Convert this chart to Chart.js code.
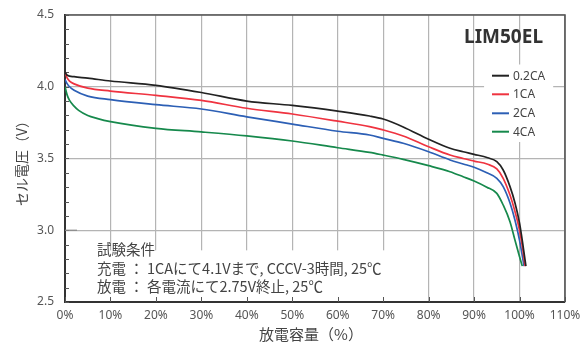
<!DOCTYPE html>
<html>
<head>
<meta charset="utf-8">
<script src="https://cdn.jsdelivr.net/npm/chart.js@4"></script>
<style>
  html, body { margin: 0; padding: 0; background: #fff; }
  #wrap { width: 582px; height: 343px; position: relative; }
</style>
</head>
<body>
<div id="wrap"><canvas id="chart"></canvas></div>
<script>
// discharge curves (capacity % -> cell voltage V)
const seriesLabels = ['0.2CA', '1CA', '2CA', '4CA'];
const seriesColors = ['#222222', '#ef3340', '#2c5fb5', '#16894c'];

const cap02 = [0, 0.5, 2, 5, 10, 20, 30, 40, 50, 60, 67, 70, 74.4, 80, 84.7, 87.6, 90, 93, 95, 96.4, 97.9, 99, 100, 100.8, 101.4];
const volt02 = [4.10, 4.08, 4.07, 4.06, 4.04, 4.01, 3.96, 3.90, 3.87, 3.83, 3.796, 3.775, 3.72, 3.634, 3.571, 3.547, 3.529, 3.505, 3.478, 3.42, 3.304, 3.19, 3.049, 2.885, 2.75];

const cap1 = [0, 0.5, 1, 2, 5, 10, 20, 30, 40, 50, 60, 67, 70, 74.4, 80, 84.7, 87.6, 90, 93, 95, 96.4, 97.9, 99, 100, 100.7, 101.2];
const volt1 = [4.10, 4.06, 4.04, 4.02, 3.99, 3.97, 3.94, 3.905, 3.85, 3.81, 3.76, 3.722, 3.699, 3.657, 3.582, 3.524, 3.50, 3.482, 3.46, 3.427, 3.362, 3.245, 3.13, 3.0, 2.87, 2.75];

const cap2 = [0, 0.5, 1, 2, 5, 10, 20, 30, 40, 50, 60, 67, 70, 74.4, 80, 84.7, 87.6, 90, 92.8, 95, 96.4, 97.9, 99, 100, 101];
const volt2 = [4.05, 4.02, 4.00, 3.975, 3.935, 3.91, 3.875, 3.845, 3.79, 3.74, 3.69, 3.664, 3.64, 3.606, 3.547, 3.49, 3.462, 3.439, 3.40, 3.362, 3.304, 3.19, 3.07, 2.93, 2.75];

const cap4 = [0, 0.5, 1, 2, 3, 5, 7, 10, 20, 30, 40, 50, 60, 67, 70, 74.4, 80, 84.7, 87.6, 90, 92.8, 95, 96.4, 97.9, 99, 100, 100.6];
const volt4 = [4.00, 3.94, 3.905, 3.865, 3.835, 3.80, 3.78, 3.757, 3.71, 3.685, 3.657, 3.622, 3.575, 3.543, 3.524, 3.494, 3.45, 3.408, 3.373, 3.343, 3.30, 3.257, 3.176, 3.06, 2.93, 2.816, 2.75];

const xTicks = [0, 10, 20, 30, 40, 50, 60, 70, 80, 90, 100, 110];
const yTicks = [2.5, 3.0, 3.5, 4.0, 4.5];

const modelName = 'LIM50EL';
const xTitle = '放電容量（%）';
const yTitle = 'セル電圧（V）';
const noteLines = [
  '試験条件',
  '充電 ： 1CAにて4.1Vまで, CCCV-3時間, 25℃',
  '放電 ： 各電流にて2.75V終止, 25℃'
];

const caps = [cap02, cap1, cap2, cap4];
const volts = [volt02, volt1, volt2, volt4];

const datasets = seriesLabels.map((label, i) => ({
  label: label,
  data: caps[i].map((c, j) => ({ x: c, y: volts[i][j] })),
  borderColor: seriesColors[i],
  backgroundColor: seriesColors[i],
  borderWidth: 1.7,
  pointRadius: 0,
  cubicInterpolationMode: 'monotone',
  fill: false
}));

const LATIN = '"Noto Sans", "Open Sans", sans-serif';
const CJK = '"Noto Sans CJK JP", "Noto Sans", sans-serif';

// extra drawing: frame, inward ticks, note box, legend, titles
const decorations = {
  id: 'decorations',
  beforeDatasetsDraw(chart) {
    const ctx = chart.ctx;
    const xs = chart.scales.x, ys = chart.scales.y;
    const a = chart.chartArea;
    ctx.save();
    // white box for the test conditions
    ctx.fillStyle = '#fff';
    const boxTop = ys.getPixelForValue(2.86);
    ctx.fillRect(a.left + 1, boxTop, xs.getPixelForValue(75.8) - a.left - 1, a.bottom - boxTop - 1);
    // legend box
    ctx.fillRect(xs.getPixelForValue(92.2), ys.getPixelForValue(4.155), xs.getPixelForValue(107.4) - xs.getPixelForValue(92.2), ys.getPixelForValue(3.615) - ys.getPixelForValue(4.155));

    ctx.strokeStyle = '#555';
    ctx.lineWidth = 1;
    // minor ticks on y
    for (let v = 2.5; v <= 4.51; v += 0.1) {
      const y = Math.round(ys.getPixelForValue(v)) + 0.5;
      ctx.beginPath();
      ctx.moveTo(a.left, y);
      ctx.lineTo(a.left + 4, y);
      ctx.stroke();
    }
    // inward tick at 3.0 (gridline stub)
    ctx.strokeStyle = '#888';
    ctx.lineWidth = 1.2;
    const y3 = ys.getPixelForValue(3.0);
    ctx.beginPath();
    ctx.moveTo(a.left, y3);
    ctx.lineTo(a.left + 12, y3);
    ctx.stroke();
    // x ticks
    ctx.strokeStyle = '#555';
    ctx.lineWidth = 1;
    xTicks.forEach(v => {
      const x = Math.round(xs.getPixelForValue(v)) + 0.5;
      ctx.beginPath();
      ctx.moveTo(x, a.bottom);
      ctx.lineTo(x, a.bottom - 5);
      ctx.stroke();
    });
    // top / right frame
    ctx.strokeStyle = '#555';
    ctx.lineWidth = 1.6;
    ctx.beginPath();
    ctx.moveTo(a.left, a.top);
    ctx.lineTo(a.right, a.top);
    ctx.lineTo(a.right, a.bottom);
    ctx.stroke();
    ctx.restore();
  },
  afterDatasetsDraw(chart) {
    const ctx = chart.ctx;
    ctx.save();
    // model name
    ctx.fillStyle = '#333';
    ctx.font = 'bold 19px ' + LATIN;
    ctx.textAlign = 'right';
    ctx.textBaseline = 'middle';
    ctx.fillText(modelName, 543, 38);

    // legend
    ctx.font = '12px ' + LATIN;
    ctx.textAlign = 'left';
    const rows = [75.7, 94.3, 113.3, 131.7];
    chart.data.datasets.forEach((ds, i) => {
      ctx.strokeStyle = ds.borderColor;
      ctx.lineWidth = 2;
      ctx.beginPath();
      ctx.moveTo(492, rows[i]);
      ctx.lineTo(509, rows[i]);
      ctx.stroke();
      ctx.fillStyle = '#444';
      ctx.fillText(ds.label, 513, rows[i] + 0.5);
    });

    // test conditions
    ctx.font = '14.5px ' + CJK;
    ctx.fillStyle = '#444';
    const ny = [249, 268, 286];
    noteLines.forEach((t, i) => ctx.fillText(t, 97, ny[i]));

    // axis titles
    ctx.font = '15px ' + CJK;
    ctx.textAlign = 'center';
    ctx.fillText(xTitle, 311, 334);
    ctx.translate(22, 160);
    ctx.rotate(-Math.PI / 2);
    ctx.font = '14px ' + CJK;
    ctx.fillText(yTitle, 0, 0);
    ctx.restore();
  }
};

new Chart(document.getElementById('chart'), {
  type: 'line',
  data: { datasets: datasets },
  options: {
    responsive: true,
    maintainAspectRatio: false,
    animation: false,
    layout: { padding: { top: 15, right: 17, left: 0, bottom: 0 } },
    plugins: { legend: { display: false }, tooltip: { enabled: false } },
    scales: {
      x: {
        type: 'linear',
        min: 0,
        max: 110,
        afterBuildTicks: s => { s.ticks = xTicks.map(v => ({ value: v })); },
        afterFit: s => { s.height = 41; s.paddingLeft = 0; s.paddingRight = 0; },
        ticks: {
          callback: v => v + '%',
          color: '#555',
          font: { family: LATIN, size: 12 },
          padding: 6,
          maxRotation: 0
        },
        grid: { color: '#b4b4b4', lineWidth: 1.2, drawTicks: false },
        border: { display: true, color: '#333', width: 2 }
      },
      y: {
        type: 'linear',
        min: 2.5,
        max: 4.5,
        afterBuildTicks: s => { s.ticks = yTicks.map(v => ({ value: v })); },
        afterFit: s => { s.width = 65; s.paddingTop = 0; s.paddingBottom = 0; },
        ticks: {
          callback: v => v.toFixed(1),
          color: '#555',
          font: { family: LATIN, size: 12 },
          padding: 11
        },
        grid: { color: '#b4b4b4', lineWidth: 1.2, drawTicks: false },
        border: { display: true, color: '#333', width: 2 }
      }
    }
  },
  plugins: [decorations]
});
</script>
</body>
</html>
